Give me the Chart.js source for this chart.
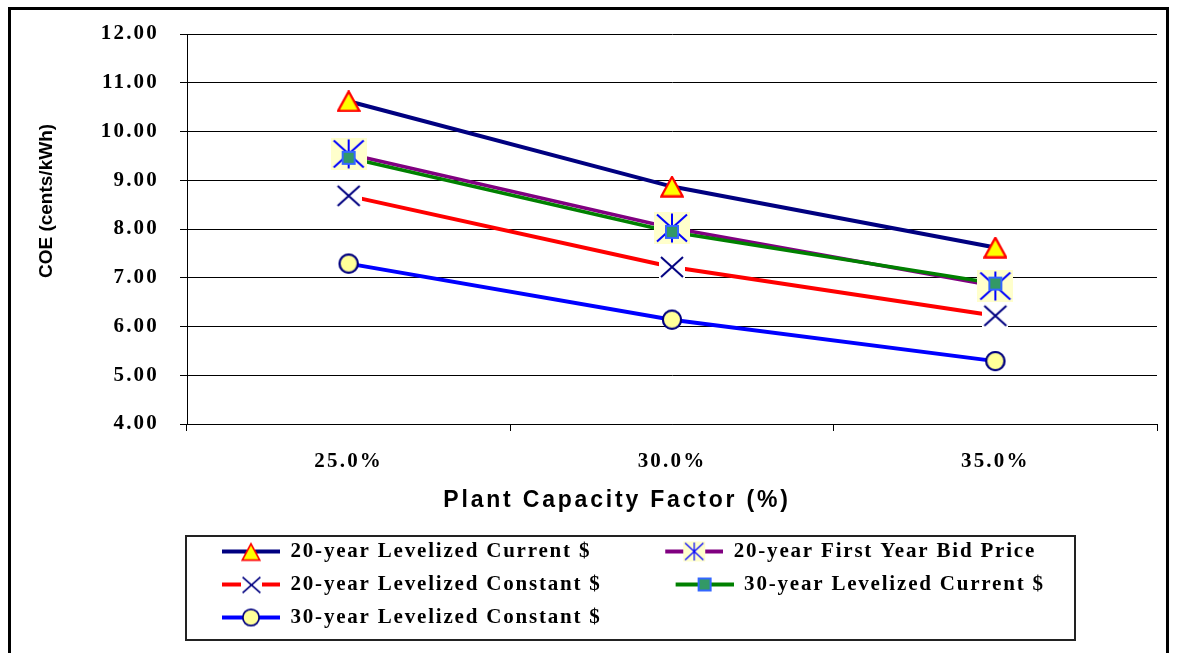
<!DOCTYPE html>
<html>
<head>
<meta charset="utf-8">
<title>COE vs Plant Capacity Factor</title>
<script src="https://cdn.jsdelivr.net/npm/chart.js@4.4.1/dist/chart.umd.min.js"></script>
<style>
  html, body { margin: 0; padding: 0; background: #fff; }
  #wrap { position: relative; width: 1177px; height: 653px; overflow: hidden; }
  #frame { position: absolute; left: 8px; top: 7px; width: 1161px; height: 700px; border: 3px solid #000; box-sizing: border-box; }
  canvas { position: absolute; left: 0; top: 0; }
</style>
</head>
<body>
<div id="wrap">
  <div id="frame"></div>
  <canvas id="coeChart" width="1177" height="653"></canvas>
</div>
<script>
// values
const capacityFactors = ['25.0%', '30.0%', '35.0%'];
const levCurrent20 = [10.62, 8.87, 7.62];
const bidPrice20 = [9.54, 8.02, 6.83];
const levConstant20 = [8.68, 7.22, 6.22];
const levCurrent30 = [9.46, 7.94, 6.88];
const levConstant30 = [7.29, 6.14, 5.29];
const yTicks = [4, 5, 6, 7, 8, 9, 10, 11, 12];

// legend glyph: transparent gap on the left, then line + marker
const GLYPH_W = 120;
const GLYPH_GAP = 62;

// excel style markers drawn into small canvases
function makeMarker(type, s) {
    const sizes = { tri: [24, 22], star: [36, 32], cross: [26, 24], square: [16, 16], circle: [22, 22] };
    const w = sizes[type][0], h = sizes[type][1];
    const c = document.createElement('canvas');
    c.width = Math.round(w * s);
    c.height = Math.round(h * s);
    const g = c.getContext('2d');
    g.scale(c.width / w, c.height / h);
    g.lineWidth = 2;
    if (type === 'tri') {
        g.beginPath();
        g.moveTo(12, 1.5); g.lineTo(22.5, 20.5); g.lineTo(1.5, 20.5);
        g.closePath();
        g.fillStyle = '#ffff00'; g.fill();
        g.strokeStyle = '#ff0000'; g.stroke();
    } else if (type === 'star') {
        g.fillStyle = '#ffffcc'; g.fillRect(0, 0, w, h);
        g.strokeStyle = '#0000ff';
        g.beginPath();
        g.moveTo(18, 1.5); g.lineTo(18, 30.5);
        g.moveTo(3, 2.5); g.lineTo(33, 29.5);
        g.moveTo(33, 2.5); g.lineTo(3, 29.5);
        g.stroke();
    } else if (type === 'cross') {
        g.fillStyle = '#ffffff'; g.fillRect(0, 0, w, h);
        g.strokeStyle = '#000080';
        g.beginPath();
        g.moveTo(2, 2); g.lineTo(24, 22);
        g.moveTo(24, 2); g.lineTo(2, 22);
        g.stroke();
    } else if (type === 'square') {
        g.fillStyle = '#339966'; g.fillRect(2, 2, 12, 12);
        g.strokeStyle = '#3366ff'; g.strokeRect(2, 2, 12, 12);
    } else {
        g.beginPath();
        g.arc(11, 11, 9, 0, Math.PI * 2);
        g.fillStyle = '#ffff99'; g.fill();
        g.strokeStyle = '#000080'; g.stroke();
    }
    return c;
}

function legendGlyph(color, type, s) {
    const c = document.createElement('canvas');
    c.width = GLYPH_W;
    c.height = 24;
    const g = c.getContext('2d');
    g.strokeStyle = color;
    g.lineWidth = 4;
    g.beginPath(); g.moveTo(GLYPH_GAP, 12); g.lineTo(GLYPH_W, 12); g.stroke();
    const m = makeMarker(type, s);
    const cx = (GLYPH_GAP + GLYPH_W) / 2;
    g.drawImage(m, Math.round(cx - m.width / 2), Math.round(12 - m.height / 2));
    return c;
}

const series = [
    { label: '20-year Levelized Current $', data: levCurrent20, color: '#000080', width: 4, marker: 'tri', legendScale: 0.85 },
    { label: '20-year First Year Bid Price', data: bidPrice20, color: '#800080', width: 3.5, marker: 'star', legendScale: 0.62 },
    { label: '20-year Levelized Constant $', data: levConstant20, color: '#ff0000', width: 4, marker: 'cross', legendScale: 0.8 },
    { label: '30-year Levelized Current $', data: levCurrent30, color: '#008000', width: 3.5, marker: 'square', legendScale: 1, order: -1 },
    { label: '30-year Levelized Constant $', data: levConstant30, color: '#0000ff', width: 4, marker: 'circle', legendScale: 0.9 },
];
const glyphs = series.map((s) => legendGlyph(s.color, s.marker, s.legendScale));

// canvas letter spacing per piece of text (the source uses spaced-out type)
function withSpacing(obj, name, spacing, dx, dy) {
    const flag = '__spaced_' + name;
    if (!obj || obj[flag]) return;
    const orig = obj[name];
    obj[name] = function () {
        const ctx = this.ctx;
        ctx.save();
        ctx.letterSpacing = spacing;
        if (dx || dy) ctx.translate(dx || 0, dy || 0);
        const out = orig.apply(this, arguments);
        ctx.restore();
        return out;
    };
    obj[flag] = true;
}

const excelLook = {
    id: 'excelLook',
    beforeLayout(chart) {
        withSpacing(chart.legend, 'fit', '1.8px');
        withSpacing(chart.legend, 'draw', '1.8px');
        withSpacing(chart.scales.x, 'drawLabels', '2.2px');
        withSpacing(chart.scales.x, 'drawTitle', '2.8px', -55, 0);
        withSpacing(chart.scales.y, 'drawLabels', '2.2px');
        withSpacing(chart.scales.y, 'drawTitle', '0px', 0, -28);
    },
    afterLayout(chart) {
        // legend items start under the first category, not at the page edge
        const lg = chart.legend;
        lg.left = chart.chartArea.left + 35 - GLYPH_GAP - lg.options.labels.padding;
        lg.width = lg.right - lg.left;
    },
    afterDatasetsDraw(chart) {
        // markers sit on top of every line, as in the source
        const ctx = chart.ctx;
        chart.data.datasets.forEach((ds, i) => {
            chart.getDatasetMeta(i).data.forEach((pt) => pt.draw(ctx, chart.chartArea));
        });
    },
    afterDraw(chart) {
        const { ctx, legend, chartArea } = chart;
        const left = chartArea.left - 1;
        const top = legend.top + 7;
        ctx.save();
        ctx.strokeStyle = '#222';
        ctx.lineWidth = 2;
        ctx.strokeRect(left, top, legend.right - 82 - left, legend.bottom + 2 - top);
        ctx.restore();
    },
};

const serifBold = (size) => ({ family: 'Liberation Serif', size: size, weight: 'bold' });
const sansBold = (size) => ({ family: 'Liberation Sans', size: size, weight: 'bold' });

new Chart(document.getElementById('coeChart'), {
    type: 'line',
    data: {
        labels: capacityFactors,
        datasets: series.map((s) => ({
            label: s.label,
            data: s.data,
            borderColor: s.color,
            backgroundColor: s.color,
            borderWidth: s.width,
            pointStyle: makeMarker(s.marker, 1),
            pointRadius: 10,
            pointHoverRadius: 10,
            tension: 0,
            fill: false,
            order: s.order || 0,
        })),
    },
    options: {
        responsive: false,
        animation: false,
        devicePixelRatio: 1,
        layout: { padding: { left: 10, right: 20, top: 34, bottom: 15 } },
        scales: {
            x: {
                type: 'category',
                offset: true,
                grid: { offset: true, drawOnChartArea: false, drawTicks: true, tickLength: 7, color: '#000' },
                border: { display: true, color: '#000', width: 1 },
                ticks: { color: '#000', padding: 18, font: serifBold(21) },
                title: {
                    display: true,
                    text: 'Plant Capacity Factor (%)',
                    color: '#000',
                    font: sansBold(23),
                    padding: { top: 0, bottom: 15 },
                },
                afterFit(scale) { scale.height = 105; },
            },
            y: {
                min: yTicks[0],
                max: yTicks[yTicks.length - 1],
                afterBuildTicks(scale) { scale.ticks = yTicks.map((v) => ({ value: v })); },
                ticks: { color: '#000', padding: 21, font: serifBold(21), callback: (v) => Number(v).toFixed(2) },
                grid: { color: '#000', drawTicks: true, tickLength: 7 },
                border: { display: true, color: '#000', width: 1 },
                title: {
                    display: true,
                    text: 'COE (cents/kWh)',
                    color: '#000',
                    font: sansBold(19),
                    padding: { top: 25.6, bottom: 0 },
                },
                afterFit(scale) { scale.width = 177; },
            },
        },
        plugins: {
            legend: {
                position: 'bottom',
                align: 'start',
                labels: {
                    usePointStyle: true,
                    pointStyleWidth: GLYPH_W,
                    padding: 12,
                    color: '#000',
                    font: serifBold(21),
                    generateLabels(chart) {
                        return chart.data.datasets.map((ds, i) => ({
                            text: ds.label,
                            pointStyle: glyphs[i],
                            fillStyle: ds.borderColor,
                            strokeStyle: ds.borderColor,
                            fontColor: '#000',
                            lineWidth: 0,
                            hidden: false,
                            datasetIndex: i,
                        }));
                    },
                },
            },
            tooltip: { enabled: false },
        },
    },
    plugins: [excelLook],
});
</script>
</body>
</html>
